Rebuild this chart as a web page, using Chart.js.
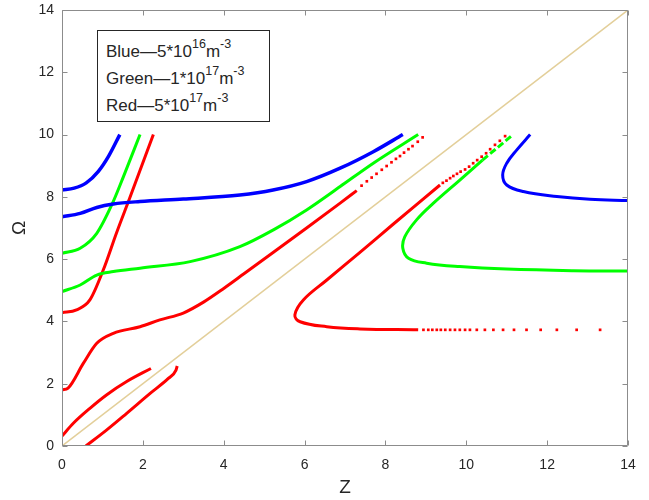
<!DOCTYPE html>
<html>
<head>
<meta charset="utf-8">
<script src="https://cdn.jsdelivr.net/npm/chart.js@4.4.1/dist/chart.umd.min.js"></script>
<style>
  body { margin: 0; background: #fff; }
  #wrap { position: relative; width: 649px; height: 500px; }
  #note {
    position: absolute; left: 97px; top: 30px; width: 173px; height: 92px;
    box-sizing: border-box; border: 1px solid #262626; background: #fff;
    padding: 8px 0 0 8px; color: #262626;
    font: 17px 'Liberation Sans', Arial, sans-serif;
  }
  #note div { line-height: 26px; white-space: nowrap; }
  #note sup { font-size: 12.5px; vertical-align: baseline; position: relative; top: -9px; }
</style>
</head>
<body>
<div id="wrap">
  <canvas id="chartDispersion" width="649" height="500"></canvas>
  <div id="note">
    <div>Blue—5*10<sup>16</sup>m<sup>-3</sup></div>
    <div>Green—1*10<sup>17</sup>m<sup>-3</sup></div>
    <div>Red—5*10<sup>17</sup>m<sup>-3</sup></div>
  </div>
</div>
<script>
//* DATOS  [Z, Omega]
const zTicks = [0, 2, 4, 6, 8, 10, 12, 14];
const omegaTicks = [0, 2, 4, 6, 8, 10, 12, 14];

const diagonal = [[0, 0], [14, 14]];

const blueTop = [[0, 8.22], [0.3, 8.28], [0.6, 8.45], [0.9, 8.82], [1.15, 9.3], [1.43, 10]];
const blueMid = [[0, 7.36], [0.45, 7.47], [0.86, 7.66], [1.27, 7.77], [1.93, 7.85], [3, 7.93], [4.4, 8.06],
                 [5.22, 8.22], [6.05, 8.49], [6.88, 8.92], [7.7, 9.45], [8.43, 10]];
const blueRight = [[11.58, 10], [11.25, 9.51], [11.0, 9.08], [10.9, 8.7], [11.0, 8.38], [11.41, 8.17],
                   [12.24, 8.01], [13.06, 7.92], [14, 7.88]];

const greenTop = [[0, 6.19], [0.45, 6.35], [0.86, 6.83], [1.23, 7.74], [1.52, 8.65], [1.93, 10]];
const greenMid = [[0, 4.96], [0.45, 5.17], [0.86, 5.49], [1.27, 5.6], [1.93, 5.71], [3.17, 5.92], [4.4, 6.4],
                  [5.23, 6.94], [6.05, 7.58], [6.88, 8.33], [7.7, 9.08], [8.81, 10]];
const greenRight = [[14, 5.62], [12.65, 5.63], [11.0, 5.68], [9.84, 5.76], [9.02, 5.87], [8.57, 6.03],
                    [8.43, 6.35], [8.48, 6.72], [8.77, 7.26], [9.18, 7.79], [9.84, 8.54], [10.4, 9.18]];
const greenRightDash = [[10.4, 9.18], [11.16, 10]];

const redSteep = [[0, 4.28], [0.36, 4.37], [0.69, 4.69], [1.02, 5.65], [1.35, 6.85], [1.68, 7.98], [2.26, 10]];
const redMid = [[0, 1.8], [0.15, 1.86], [0.53, 2.66], [0.86, 3.3], [1.27, 3.62], [1.93, 3.83], [2.42, 4.05],
                [3.0, 4.27], [3.5, 4.62], [4.0, 5.06], [4.5, 5.53], [5.23, 6.22], [6.05, 7.0], [6.88, 7.8], [7.29, 8.2]];
const redMidDots = [[7.41, 8.36], [7.54, 8.5], [7.66, 8.62], [7.78, 8.74], [7.91, 8.87], [8.03, 8.99],
                    [8.15, 9.11], [8.26, 9.22], [8.36, 9.31], [8.46, 9.42], [8.57, 9.53], [8.67, 9.63],
                    [8.8, 9.77], [8.92, 9.91]];
const redLow = [[0, 0.32], [0.28, 0.73], [0.69, 1.21], [1.1, 1.64], [1.6, 2.07], [2.2, 2.49]];
const redBottom = [[0.59, 0], [1.1, 0.51], [1.6, 1.05], [2.18, 1.69], [2.63, 2.17], [2.82, 2.44], [2.85, 2.57]];
const redRight = [[8.81, 3.73], [7.37, 3.76], [6.55, 3.83], [5.89, 3.99], [5.76, 4.21], [5.97, 4.69],
                  [6.55, 5.33], [7.37, 6.22], [8.19, 7.12], [9.35, 8.38]];
const redRightUpDots = [[9.42, 8.45], [9.51, 8.52], [9.6, 8.6], [9.68, 8.67], [9.77, 8.74], [9.86, 8.81],
                        [9.97, 8.88], [10.07, 8.97], [10.17, 9.08], [10.27, 9.18], [10.38, 9.29], [10.49, 9.4],
                        [10.59, 9.53], [10.71, 9.67], [10.83, 9.8], [10.96, 9.95]];
const redRightTailDots = [[8.94, 3.73], [9.06, 3.73], [9.16, 3.73], [9.27, 3.73], [9.37, 3.73], [9.48, 3.73],
                          [9.6, 3.73], [9.72, 3.73], [9.84, 3.73], [9.97, 3.73], [10.09, 3.73], [10.26, 3.73],
                          [10.46, 3.73], [10.67, 3.73], [10.91, 3.73], [11.18, 3.73], [11.49, 3.73],
                          [11.84, 3.73], [12.24, 3.73], [12.73, 3.73], [13.31, 3.73]];

const AZUL = '#0000ff';
const VERDE = '#00ff00';
const ROJO = '#ff0000';
const FONT = "'Liberation Sans', Arial, sans-serif";
const TEXTO = '#262626';
const EJE = '#8c8c8c';

const toPts = arr => arr.map(([x, y]) => ({ x, y }));
// curvas monotonas en Z: spline monotona; curvas que se doblan: bezier
const curva = (arr, color, extra = {}) => Object.assign({
    data: toPts(arr),
    borderColor: color,
    backgroundColor: color,
    borderWidth: 3,
    showLine: true,
    pointRadius: 0,
    cubicInterpolationMode: 'monotone'
}, extra);
const doblada = (arr, color, extra = {}) => curva(arr, color, Object.assign({ cubicInterpolationMode: 'default', tension: 0.4 }, extra));
const puntos = (arr, color) => ({
    data: toPts(arr),
    borderColor: color,
    backgroundColor: color,
    showLine: false,
    pointStyle: 'rect',
    pointRadius: 1.9,
    pointBorderWidth: 0
});

// caja y marcas hacia adentro (estilo MATLAB)
const cajaEjes = {
    id: 'cajaEjes',
    afterDatasetsDraw(chart) {
        const { ctx, chartArea: a, scales: { x, y } } = chart;
        const L = Math.round(a.left) + 0.5, R = Math.round(a.right) - 0.5;
        const T = Math.round(a.top) + 0.5, B = Math.round(a.bottom) - 0.5;
        const len = 5;
        ctx.save();
        ctx.strokeStyle = EJE;
        ctx.lineWidth = 1;
        ctx.beginPath();
        ctx.rect(L, T, R - L, B - T);
        x.ticks.forEach(t => {
            const px = Math.round(x.getPixelForValue(t.value)) + 0.5;
            ctx.moveTo(px, B); ctx.lineTo(px, B - len);
            ctx.moveTo(px, T); ctx.lineTo(px, T + len);
        });
        y.ticks.forEach(t => {
            const py = Math.round(y.getPixelForValue(t.value)) + 0.5;
            ctx.moveTo(L, py); ctx.lineTo(L + len, py);
            ctx.moveTo(R, py); ctx.lineTo(R - len, py);
        });
        ctx.stroke();
        ctx.restore();
    }
};

const ejeBase = (ticksArr, pad) => ({
    type: 'linear',
    min: ticksArr[0],
    max: ticksArr[ticksArr.length - 1],
    grid: { display: false, drawTicks: false },
    border: { display: false },
    ticks: { stepSize: ticksArr[1] - ticksArr[0], padding: pad, color: TEXTO, font: { family: FONT, size: 14 } }
});

new Chart(document.getElementById('chartDispersion'), {
    type: 'scatter',
    data: {
        datasets: [
            curva(diagonal, '#e3cf9a', { borderWidth: 1.5 }),
            curva(blueTop, AZUL, { borderWidth: 3.5 }),
            curva(blueMid, AZUL, { borderWidth: 3.5 }),
            doblada(blueRight, AZUL),
            curva(greenTop, VERDE),
            curva(greenMid, VERDE),
            doblada(greenRight, VERDE),
            curva(greenRightDash, VERDE, { borderDash: [7, 3] }),
            curva(redSteep, ROJO),
            curva(redMid, ROJO),
            puntos(redMidDots, ROJO),
            curva(redLow, ROJO),
            curva(redBottom, ROJO),
            doblada(redRight, ROJO),
            puntos(redRightUpDots, ROJO),
            puntos(redRightTailDots, ROJO)
        ]
    },
    options: {
        responsive: false,
        animation: false,
        layout: { padding: { top: 10, right: 21, left: 0, bottom: 0 } },
        plugins: { legend: { display: false }, tooltip: { enabled: false } },
        scales: {
            x: Object.assign(ejeBase(zTicks, 11), {
                title: { display: true, text: 'Z', color: TEXTO, font: { family: FONT, size: 19 }, padding: { top: 0, bottom: 1 } },
                afterFit(s) { s.height = 54; s.paddingLeft = 0; s.paddingRight = 0; }
            }),
            y: Object.assign(ejeBase(omegaTicks, 8), {
                title: { display: true, text: 'Ω', color: TEXTO, font: { family: FONT, size: 19 }, padding: { top: 8, bottom: 0 } },
                afterFit(s) { s.width = 62; s.paddingTop = 0; s.paddingBottom = 0; }
            })
        }
    },
    plugins: [cajaEjes]
});
</script>
</body>
</html>
